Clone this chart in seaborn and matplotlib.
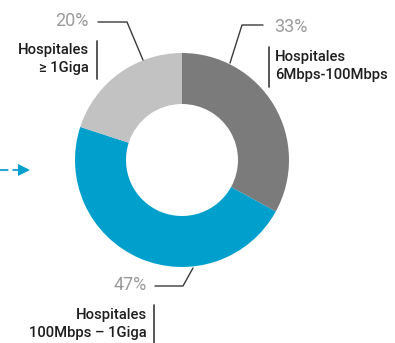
import matplotlib
matplotlib.use("Agg")
import matplotlib.pyplot as plt
import seaborn as sns

# data
categories = ["Hospitales\n6Mbps-100Mbps", "Hospitales\n100Mbps \u2013 1Giga", "Hospitales\n\u2265 1Giga"]
shares = [33, 47, 20]
colors = ["#7b7b7b", "#019fcc", "#c2c2c2"]

sns.set_style("white")
plt.rcParams['font.family'] = ['Roboto', 'DejaVu Sans']

H = 343
def py(y):
    # pixel row (from top) -> data y
    return H - y

fig = plt.figure(figsize=(3.95, 3.43), dpi=100)
ax = fig.add_axes([0, 0, 1, 1])
ax.set_xlim(0, 395)
ax.set_ylim(0, H)
ax.set_aspect("equal")
ax.axis("off")

ax.pie(shares, colors=colors, startangle=90, counterclock=False,
       center=(182, py(160)), radius=107,
       wedgeprops=dict(width=51, linewidth=0))
ax.set_xlim(0, 395)
ax.set_ylim(0, H)

lc = "#3a3a3a"
pc = "#9a9a9a"
fs = 10.6
pfs = 13
tc = "#1e1e1e"

# 33%
ax.plot([263, 242, 230], [py(25), py(25), py(63)], color=lc, lw=1)
ax.text(274, py(27), f"{shares[0]}%", color=pc, fontsize=pfs, va="center", ha="left")
ax.plot([269, 269], [py(47), py(87)], color=lc, lw=1.2)
ax.text(275, py(66), categories[0], color=tc, fontsize=fs, va="center", ha="left",
        linespacing=1.35, fontweight="medium")

# 20%
ax.plot([98, 127, 143], [py(22), py(22), py(60)], color=lc, lw=1)
ax.text(89, py(21), f"{shares[2]}%", color=pc, fontsize=pfs, va="center", ha="right")
ax.plot([97, 97], [py(41), py(79)], color=lc, lw=1.2)
ax.text(89, py(59), categories[2], color=tc, fontsize=fs, va="center", ha="right",
        linespacing=1.35, fontweight="medium")

# 47%
ax.plot([155, 183, 193], [py(286), py(286), py(268)], color=lc, lw=1)
ax.text(147, py(285), f"{shares[1]}%", color=pc, fontsize=pfs, va="center", ha="right")
ax.plot([154, 154], [py(305), py(343)], color=lc, lw=1.2)
ax.text(147, py(324), categories[1], color=tc, fontsize=fs, va="center", ha="right",
        linespacing=1.35, fontweight="medium")

# dashed arrow on the left
ax.plot([0, 18], [py(170), py(170)], color="#2aa7d6", lw=1.5, ls=(0, (4, 2)))
ax.plot([24], [py(170)], marker=">", color="#019fcc", markersize=8, markeredgewidth=0)

fig.savefig("out.png", dpi=100)
